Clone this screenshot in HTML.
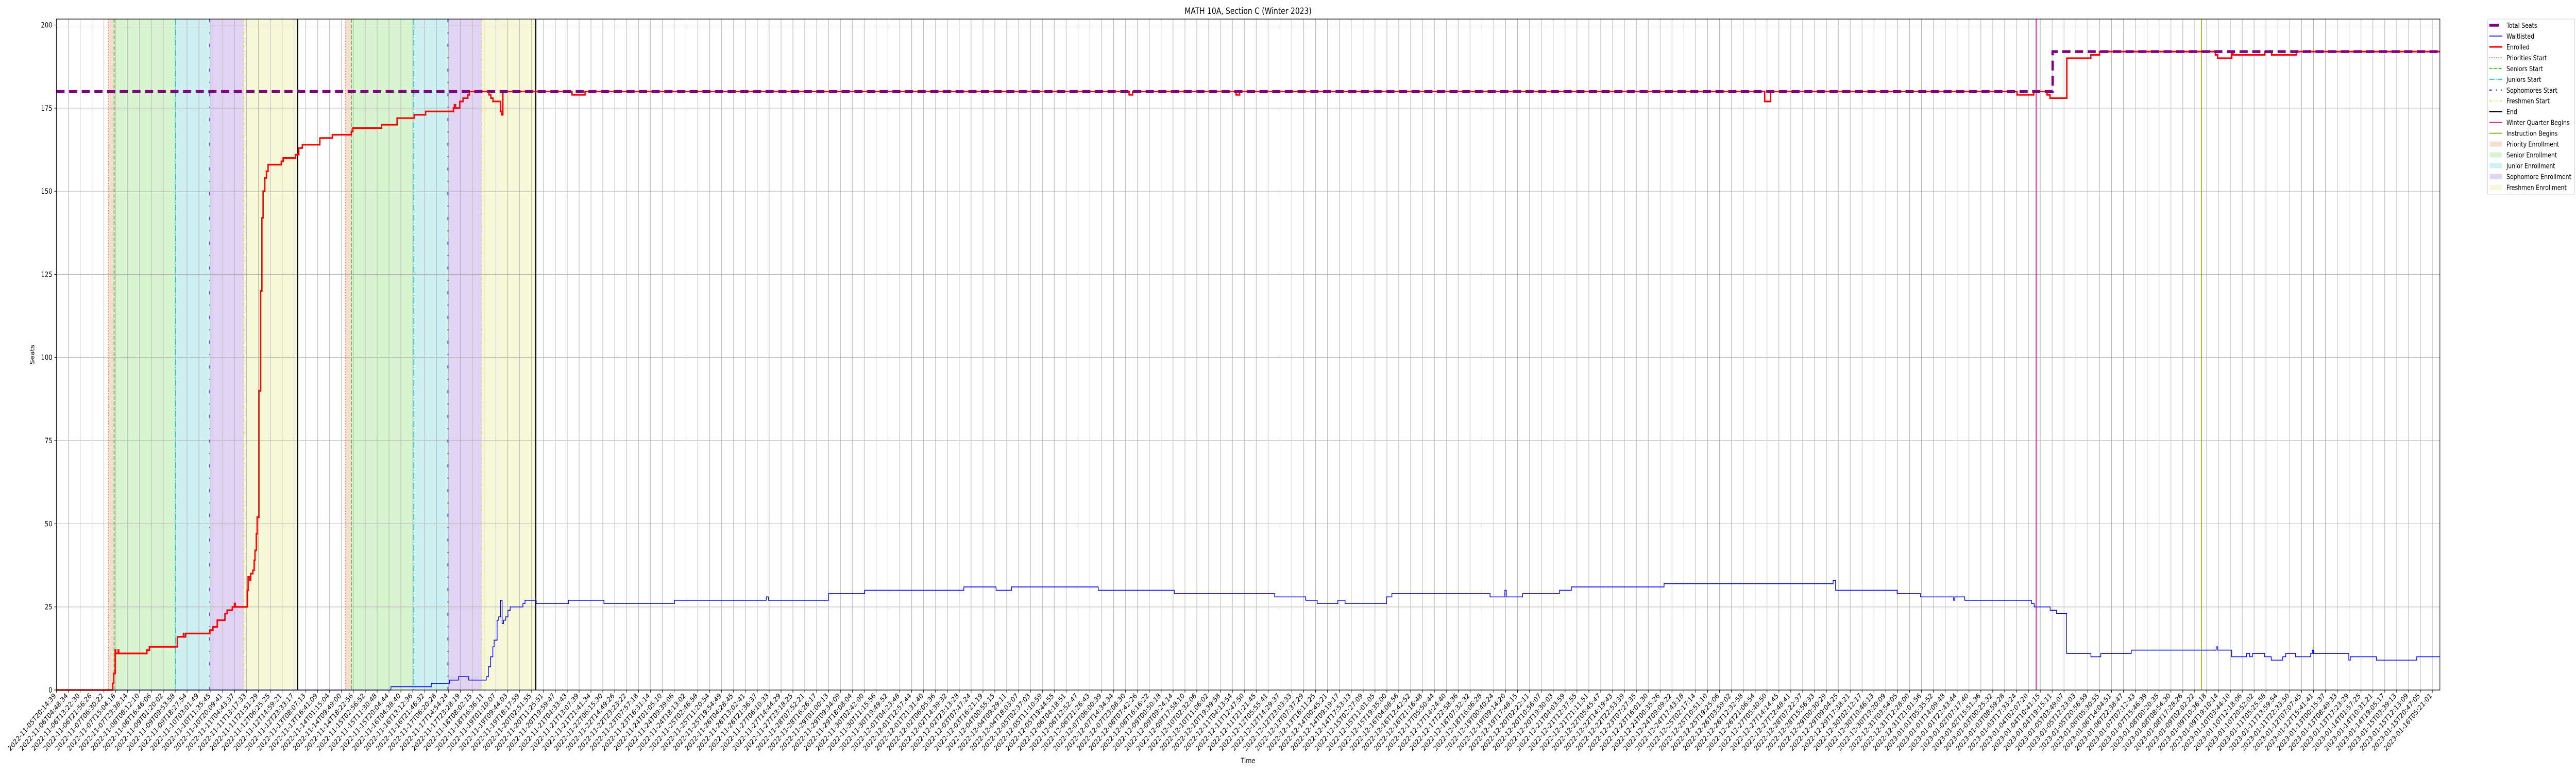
<!DOCTYPE html>
<html><head><meta charset="utf-8"><style>
html,body{margin:0;padding:0;background:#fff;width:100%;height:100%;overflow:hidden;}
svg{display:block;position:absolute;left:0;top:0;width:100vw;height:100vh;font-family:"DejaVu Sans","Liberation Sans",sans-serif;}
</style></head><body>
<svg id="chart" viewBox="0 0 6000 1500" preserveAspectRatio="none" xmlns="http://www.w3.org/2000/svg">
<rect width="6000" height="1500" fill="#fff"/>
<g id="spans"></g>
<g id="grid"></g>
<g id="vlines"></g>
<g id="series"></g>
<rect x="131.3" y="37" width="5551.7" height="1302" fill="none" stroke="#000" stroke-width="1.2"/>
<g id="xticks"></g>
<g id="yticks"></g>
<text x="2907" y="27" font-size="16.7" text-anchor="middle">MATH 10A, Section C (Winter 2023)</text>
<text x="2907" y="1481" font-size="13.9" text-anchor="middle">Time</text>
<text transform="translate(80,688) rotate(-90)" font-size="13.9" text-anchor="middle">Seats</text>
<g id="legend"></g>
</svg>
<script>
const yTicks = [0,25,50,75,100,125,150,175,200];
const tickStart = Date.UTC(2022,10,5,20,14,39);
const tickEnd = Date.UTC(2023,0,16,5,21,1);
const tickCount = 201;
const tickLabels = [];
for (let i = 0; i < tickCount; i++) {
  const d = new Date(tickStart + (tickEnd - tickStart) * i / (tickCount - 1));
  tickLabels.push(d.toISOString().slice(0,19));
}
const seatsX = [0,168.04];
const seatsY = [180,192];
const enrolledX = [0,4.74,4.83,4.95,5.0,5.2,5.25,7.62,7.83,10.18,10.69,10.74,10.88,12.92,13.18,13.54,14.19,14.37,14.81,14.99,15.06,16.07,16.14,16.27,16.36,16.54,16.65,16.72,16.83,16.9,17.05,17.19,17.3,17.4,17.54,17.68,17.82,18.93,19.09,20.13,20.4,20.7,22.18,23.23,24.83,24.96,27.38,28.68,30.12,31.08,33.42,33.5,33.6,33.96,34.23,34.63,34.76,36.41,36.57,36.75,37.38,37.49,37.58,43.4,44.5,90.3,90.6,99.3,99.6,143.8,144.3,165.04,166.45,167.57,167.82,169.23,171.25,171.98,181.74,181.92,183.11,183.22,185.9,186.47,188.55];
const enrolledY = [0,2,5,12,11,12,11,12,13,16,17,16,17,18,19,21,23,24,25,26,25,30,34,33,35,36,39,42,47,52,90,120,142,150,154,156,158,159,160,161,163,164,166,167,168,169,170,172,173,174,175,176,175,177,178,179,180,179,178,177,174,173,180,179,180,179,180,179,180,177,180,179,180,179,178,190,191,192,191,190,192,191,192,191,192];
const waitX = [0,28.16,31.56,33.09,33.84,34.71,36.19,36.37,36.55,36.74,36.85,37.1,37.23,37.38,37.52,37.64,37.82,38.01,38.2,39.27,39.45,40.39,43.1,46.09,52.03,59.76,59.94,65.0,68.04,76.39,79.1,80.4,87.7,94.1,102.55,105.16,106.13,107.87,108.48,111.97,112.42,120.68,121.93,122.05,123.42,126.53,127.53,135.33,149.56,149.77,154.95,156.91,159.7,159.8,160.64,166.26,166.49,167.83,168.37,169.22,171.26,172.09,174.66,181.81,181.93,183.11,184.37,184.63,184.86,185.89,186.44,187.41,187.66,188.49,189.76,189.9,190.0,192.97,193.1,195.29,198.69];
const waitY = [0,1,2,3,4,3,4,7,10,13,15,21,22,27,20,21,22,24,25,26,27,26,27,26,27,28,27,29,30,31,30,31,30,29,28,27,26,27,26,28,29,28,30,28,29,30,31,32,33,30,29,28,27,28,27,26,25,24,23,11,10,11,12,13,12,10,11,10,11,10,9,10,11,10,11,12,11,9,10,9,10];
const spanNames = ['priority-enrollment','senior-enrollment','junior-enrollment','sophomore-enrollment','freshmen-enrollment','priority-enrollment-2','senior-enrollment-2','junior-enrollment-2','sophomore-enrollment-2','freshmen-enrollment-2'];
const spanStart = [4.37,4.86,10.03,12.91,15.77,24.34,24.83,30.09,32.96,35.81];
const spanEnd = [4.86,10.03,12.91,15.77,20.32,24.83,30.09,32.96,35.81,40.36];
const spanColors = ['#f6ded3','#d9f4d1','#cef0f2','#e1d3f4','#f6f8d8','#f6ded3','#d9f4d1','#cef0f2','#e1d3f4','#f6f8d8'];
const eventNames = ['priorities-start','seniors-start','juniors-start','sophomores-start','freshmen-start','end','priorities-start-2','seniors-start-2','juniors-start-2','sophomores-start-2','freshmen-start-2','end-2','winter-quarter-begins','instruction-begins'];
const eventX = [4.37,4.86,10.03,12.91,15.77,20.32,24.34,24.83,30.09,32.96,35.81,40.36,166.65,180.56];
const eventStyle = ['p','s','j','so','f','e','p','s','j','so','f','e','w','i'];
const XMAX = 200.64;
const NS = 'http://www.w3.org/2000/svg';
function xs(i){ return 131.3 + i * 27.67; }
function ys(v){ return 1339 - v * 6.4525; }
function mk(tag, attrs, parent){ const e=document.createElementNS(NS,tag); for(const k in attrs) e.setAttribute(k,attrs[k]); parent.appendChild(e); return e; }
const styles = {
 p:{c:'#e8733a',w:2,d:'2,3.3'},
 s:{c:'#3ccc1c',w:2,d:'7.4,3.2'},
 j:{c:'#1ec8d2',w:2.2,d:'12,3,2,3'},
 so:{c:'#6a22d8',w:2.2,d:'6,20,2,20'},
 f:{c:'#e2e23a',w:2,d:'6,5,2,5,2,5'},
 e:{c:'#000',w:2.5,d:''},
 w:{c:'#e0169d',w:2,d:''},
 i:{c:'#8fb01a',w:2,d:''}
};
const gS=document.getElementById('spans');
for(let k=0;k<spanStart.length;k++){
  const r=mk('rect',{x:xs(spanStart[k]),y:37,width:xs(spanEnd[k])-xs(spanStart[k]),height:1302,fill:spanColors[k]},gS);
  
  
}
const gG=document.getElementById('grid');
for(let i=0;i<tickCount;i++){
  const l=mk('line',{x1:xs(i),x2:xs(i),y1:37,y2:1339,stroke:'#b0b0b0','stroke-width':1.1},gG);
  
  
}
for(const v of yTicks){
  const l=mk('line',{x1:131.3,x2:5683,y1:ys(v),y2:ys(v),stroke:'#b0b0b0','stroke-width':1.1},gG);
  
  
}
const gV=document.getElementById('vlines');
for(let k=0;k<eventX.length;k++){
  const st=styles[eventStyle[k]];
  const a={x1:xs(eventX[k]),x2:xs(eventX[k]),y1:37,y2:1339,stroke:st.c,'stroke-width':st.w};
  if(st.d) a['stroke-dasharray']=st.d;
  const l=mk('line',a,gV);
  
  
}
function stepPath(X,Y,xend){
  let d='M'+xs(X[0]).toFixed(2)+','+ys(Y[0]).toFixed(2);
  for(let k=1;k<X.length;k++){ d+='H'+xs(X[k]).toFixed(2)+'V'+ys(Y[k]).toFixed(2); }
  d+='H'+xs(xend).toFixed(2);
  return d;
}
const gSe=document.getElementById('series');
const pw=mk('path',{d:stepPath(waitX,waitY,XMAX),fill:'none',stroke:'#0000ff','stroke-width':1.6},gSe);


const pe=mk('path',{d:stepPath(enrolledX,enrolledY,XMAX),fill:'none',stroke:'#ff0000','stroke-width':3.2},gSe);


const ps=mk('path',{d:stepPath(seatsX,seatsY,XMAX),fill:'none',stroke:'#800080','stroke-width':5.5,'stroke-dasharray':'19,10.5'},gSe);


const gX=document.getElementById('xticks');
for(let i=0;i<tickCount;i++){
  const x=xs(i);
  const t=mk('line',{x1:x,x2:x,y1:1339,y2:1344,stroke:'#000','stroke-width':1.1},gX);
  
  
  const tx=mk('text',{transform:'translate('+x.toFixed(2)+',1351) rotate(-45)','text-anchor':'end','font-size':13.9},gX);
  tx.textContent=tickLabels[i];
  
  
}
const gY=document.getElementById('yticks');
for(const v of yTicks){
  const y=ys(v);
  const t=mk('line',{x1:126.4,x2:131.3,y1:y,y2:y,stroke:'#000','stroke-width':1.1},gY);
  
  
  const tx=mk('text',{x:122,y:y+5,'text-anchor':'end','font-size':13.9},gY);
  tx.textContent=String(v);
  
  
}
const legendLabels=['Total Seats','Waitlisted','Enrolled','Priorities Start','Seniors Start','Juniors Start','Sophomores Start','Freshmen Start','End','Winter Quarter Begins','Instruction Begins','Priority Enrollment','Senior Enrollment','Junior Enrollment','Sophomore Enrollment','Freshmen Enrollment'];
const gL=document.getElementById('legend');
const fr=mk('rect',{x:5794,y:37,width:203,height:340,rx:3,fill:'#fff',stroke:'#d0d0d0','stroke-width':1.1},gL);


const legStyles=[
 {c:'#800080',w:5.5,d:'',x2:5820},{c:'#0000ff',w:1.6,d:''},{c:'#ff0000',w:3.2,d:''},
 styles.p,styles.s,styles.j,{c:'#6a22d8',w:2.2,d:'6,10,2,10'},styles.f,styles.e,styles.w,styles.i
];
const patchCols=['#f6ded3','#d9f4d1','#cef0f2','#e1d3f4','#f6f8d8'];
for(let k=0;k<legendLabels.length;k++){
  const cy=49+k*20.96;
  const g=mk('g',{},gL);
  
  
  if(k<legStyles.length){
    const st=legStyles[k];
    const a={x1:5798,x2:st.x2||5828,y1:cy,y2:cy,stroke:st.c,'stroke-width':st.w};
    if(st.d) a['stroke-dasharray']=st.d;
    mk('line',a,g);
  } else {
    mk('rect',{x:5799,y:cy-5,width:28,height:10,fill:patchCols[k-legStyles.length]},g);
  }
  const tx=mk('text',{x:5838,y:cy+5,'font-size':13.2},g);
  tx.textContent=legendLabels[k];
}
</script>
</body></html>
